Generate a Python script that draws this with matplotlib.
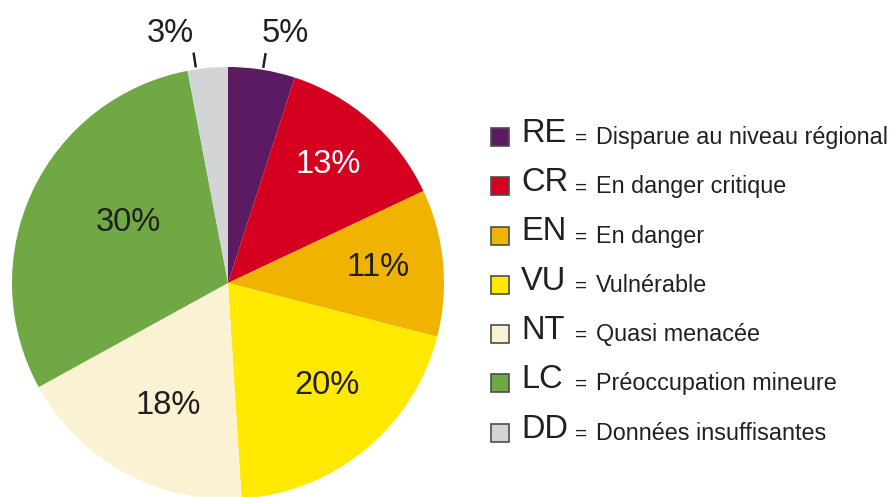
import numpy as np
import matplotlib.pyplot as plt
from matplotlib.patches import Rectangle

plt.rcParams['font.family'] = ['Liberation Sans', 'DejaVu Sans']

codes = ["RE", "CR", "EN", "VU", "NT", "LC", "DD"]
names = ["Disparue au niveau régional", "En danger critique", "En danger",
         "Vulnérable", "Quasi menacée", "Préoccupation mineure", "Données insuffisantes"]
shares = [5, 13, 11, 20, 18, 30, 3]
colors = ["#5c1a63", "#d5001f", "#f0b400", "#ffe900", "#faf2d2", "#70a845", "#d3d4d6"]
pct_colors = ["#231f20", "white", "#231f20", "#231f20", "#231f20", "#231f20", "#231f20"]

INK = "#231f20"


def main() -> None:
    fig = plt.figure(figsize=(8.9, 4.97), dpi=100)
    ax = fig.add_axes([0, 0, 1, 1])

    # work in pixel-like units, y going up
    cx, cy, r = 228, 214, 216
    wedges, _ = ax.pie(shares, colors=colors, startangle=90, counterclock=False,
                       center=(cx, cy), radius=r, frame=True,
                       wedgeprops=dict(linewidth=0))
    ax.set_xlim(0, 890)
    ax.set_ylim(0, 497)
    ax.set_aspect("equal")
    ax.axis("off")

    # inside labels: (radius fraction, angle shift from wedge middle)
    inside = {1: (0.717, 1.1), 2: (0.70, 0.3), 3: (0.66, 4.5), 4: (0.63, 2.6), 5: (0.54, -6.2)}
    # outside labels: (angle of leader line, text dx)
    outside = {0: (80.7, 20), 6: (98.5, -23)}

    for i, (w, s) in enumerate(zip(wedges, shares)):
        mid = (w.theta1 + w.theta2) / 2
        if i in inside:
            d, shift = inside[i]
            a = np.deg2rad(mid + shift)
            ax.text(cx + d * r * np.cos(a), cy + d * r * np.sin(a), f"{s}%",
                    ha="center", va="center", fontsize=23.5, color=pct_colors[i])
        else:
            ang, dx = outside[i]
            a = np.deg2rad(ang)
            x0, y0 = cx + (r + 2) * np.cos(a), cy + (r + 2) * np.sin(a)
            x1, y1 = cx + (r + 17) * np.cos(a), cy + (r + 17) * np.sin(a)
            ax.plot([x0, x1], [y0, y1], color=INK, lw=1.8, solid_capstyle="butt")
            ax.text(x1 + dx, 464, f"{s}%", ha="center", va="center",
                    fontsize=23.5, color=INK)

    # legend
    for i, (code, name, col) in enumerate(zip(codes, names, colors)):
        yc = 497 - (137 + i * 49.25)
        ax.add_patch(Rectangle((491, yc - 9), 18, 18, facecolor=col,
                               edgecolor="#4d4d4d", lw=1.2))
        ax.text(521, yc - 5, code, ha="left", va="baseline", fontsize=23.5, color=INK)
        ax.text(575, yc - 7, "=", ha="left", va="baseline", fontsize=15, color=INK)
        ax.text(596, yc - 7, name, ha="left", va="baseline", fontsize=16.8, color=INK)

    fig.savefig("out.png", dpi=100)


if __name__ == "__main__":
    main()
